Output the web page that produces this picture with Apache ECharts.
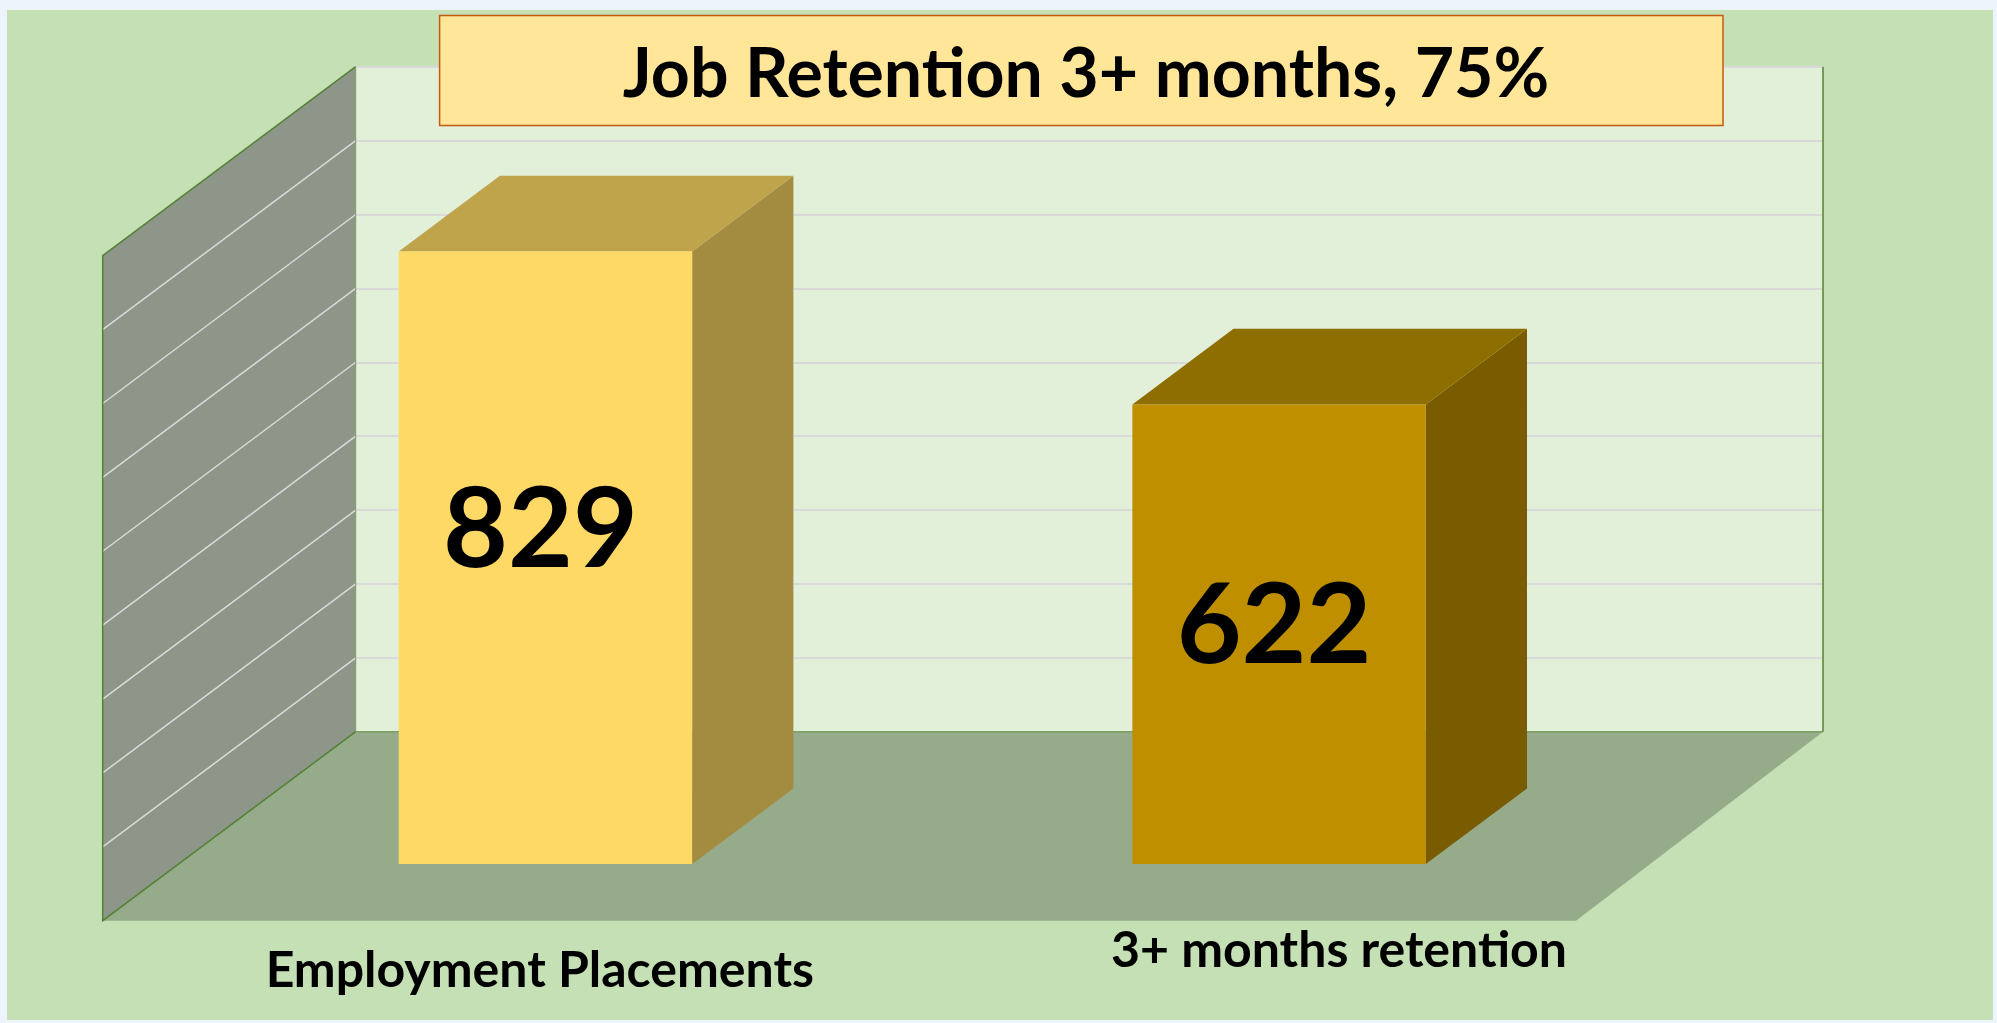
<!DOCTYPE html>
<html>
<head>
<meta charset="utf-8">
<title>Job Retention</title>
<script src="https://cdn.jsdelivr.net/npm/echarts@6/dist/echarts.min.js"></script>
<style>
html, body { margin: 0; padding: 0; background: #edf4fb; }
#chartDiv { position: absolute; left: 7px; top: 10px; width: 1986px; height: 1010px; }
</style>
</head>
<body>
<div id="chartDiv"></div>
<script>
// chart data
var categories = ['Employment Placements', '3+ months retention'];
var counts = [829, 622];
var yTicks = [0, 100, 200, 300, 400, 500, 600, 700, 800, 900];
var titleText = 'Job Retention 3+ months, 75%';

// fake 3d look
var depth = [-253, 189];      // offset from back wall to front edge of floor
var barBack = 0.30, barFront = 0.70;
var faceColors = ['#ffd966', '#bf8f00'];
var topColors = ['#bfa44c', '#8f6e00'];
var sideColors = ['#a38b3f', '#7a5c00'];

var myChart = echarts.init(document.getElementById('chartDiv'));

function renderWalls(params, api) {
    var cs = params.coordSys;
    var dx = depth[0], dy = depth[1];
    var x0 = cs.x, x1 = cs.x + cs.width, yT = cs.y, yB = cs.y + cs.height;
    var kids = [];
    // floor
    kids.push({ type: 'polygon', shape: { points: [[x0, yB], [x1, yB], [x1 + dx + 6, yB + dy], [x0 + dx, yB + dy]] },
        style: { fill: '#96ab8a' } });
    // left side wall
    kids.push({ type: 'polygon', shape: { points: [[x0, yT], [x0, yB], [x0 + dx, yB + dy], [x0 + dx, yT + dy]] },
        style: { fill: '#8d9688' } });
    for (var i = 1; i < yTicks.length - 1; i++) {
        var y = api.coord([0, yTicks[i]])[1];
        kids.push({ type: 'line', shape: { x1: x0, y1: y, x2: x0 + dx, y2: y + dy },
            style: { stroke: '#dadada', lineWidth: 1.5 } });
    }
    // edges
    kids.push({ type: 'polyline', shape: { points: [[x0, yT], [x0 + dx, yT + dy], [x0 + dx, yB + dy], [x0, yB]] },
        style: { stroke: '#548235', lineWidth: 1.5, fill: null } });
    kids.push({ type: 'line', shape: { x1: x0, y1: yT, x2: x0, y2: yB },
        style: { stroke: '#7fa060', lineWidth: 1 } });
    kids.push({ type: 'line', shape: { x1: x0, y1: yB, x2: x1, y2: yB },
        style: { stroke: '#7fa060', lineWidth: 1.5 } });
    kids.push({ type: 'line', shape: { x1: x1, y1: yT, x2: x1, y2: yB },
        style: { stroke: '#548235', lineWidth: 1.5 } });
    return { type: 'group', children: kids };
}

function renderBar(params, api) {
    var i = params.dataIndex;
    var base = api.coord([api.value(0), 0]);
    var top = api.coord([api.value(0), api.value(1)]);
    var w = api.size([1, 0])[0] * 0.4;
    var dx = depth[0], dy = depth[1];
    var fx0 = base[0] - w / 2 + dx * barFront, fx1 = fx0 + w;
    var fyT = top[1] + dy * barFront, fyB = base[1] + dy * barFront;
    var bx0 = base[0] - w / 2 + dx * barBack, bx1 = bx0 + w;
    var byT = top[1] + dy * barBack, byB = base[1] + dy * barBack;
    return {
        type: 'group',
        children: [
            { type: 'polygon', shape: { points: [[fx1, fyT], [bx1, byT], [bx1, byB], [fx1, fyB]] },
              style: { fill: sideColors[i] } },
            { type: 'polygon', shape: { points: [[fx0, fyT], [fx1, fyT], [bx1, byT], [bx0, byT]] },
              style: { fill: topColors[i] } },
            { type: 'rect', shape: { x: fx0, y: fyT, width: w, height: fyB - fyT },
              style: { fill: faceColors[i] } },
            { type: 'text', style: {
                text: String(api.value(1)), x: (fx0 + fx1) / 2 - 5, y: fyT + (fyB - fyT) * 0.373 + 51,
                align: 'center', verticalAlign: 'middle', fill: '#000',
                font: 'bold 112px Lato' } }
        ]
    };
}

option = {
    backgroundColor: '#c5e0b4',
    animation: false,
    title: {
        text: titleText,
        left: 1074,
        top: 60,
        textAlign: 'center',
        textVerticalAlign: 'middle',
        z: 20,
        textStyle: { fontFamily: 'Lato', fontWeight: 'bold', fontSize: 68, color: '#000' }
    },
    graphic: [{
        type: 'rect', z: 10,
        shape: { x: 432.6, y: 5.5, width: 1283.4, height: 110 },
        style: { fill: '#ffe699', stroke: '#c55a11', lineWidth: 1.5 }
    }],
    grid: [
        { left: 348.7, top: 56.7, width: 1467.3, height: 665, show: true,
          backgroundColor: '#e2efd9', borderWidth: 0 },
        { left: 133.2, top: 880, width: 1598.4, height: 20 }
    ],
    xAxis: [{
        type: 'category', gridIndex: 0, data: categories,
        axisLine: { show: false }, axisTick: { show: false }, axisLabel: { show: false }
    }, {
        type: 'category', gridIndex: 1, data: categories,
        axisLine: { show: false }, axisTick: { show: false },
        axisLabel: {
            interval: 0, margin: 0,
            formatter: function (v, i) { return (i === 0 ? '{a|' : '{b|') + v + '}'; },
            rich: {
                a: { fontFamily: 'Lato', fontWeight: 'bold', fontSize: 50, color: '#000', lineHeight: 122 },
                b: { fontFamily: 'Lato', fontWeight: 'bold', fontSize: 50, color: '#000', lineHeight: 82 }
            }
        }
    }],
    yAxis: [{
        type: 'value', gridIndex: 0, min: 0, max: 900, interval: 100,
        axisLine: { show: false }, axisTick: { show: false }, axisLabel: { show: false },
        splitLine: { lineStyle: { color: '#d9d9d9', width: 2 } }
    }, {
        type: 'value', gridIndex: 1, show: false
    }],
    series: [{
        name: 'walls', type: 'custom', xAxisIndex: 0, yAxisIndex: 0, z: 1,
        renderItem: renderWalls, data: [[0, 0]], silent: true
    }, {
        name: 'counts', type: 'custom', xAxisIndex: 0, yAxisIndex: 0, z: 3,
        renderItem: renderBar,
        data: counts.map(function (v, i) { return [i, v]; })
    }]
};

myChart.setOption(option);
window.addEventListener("resize", function () {
    myChart.resize();
});
</script>
</body>
</html>
